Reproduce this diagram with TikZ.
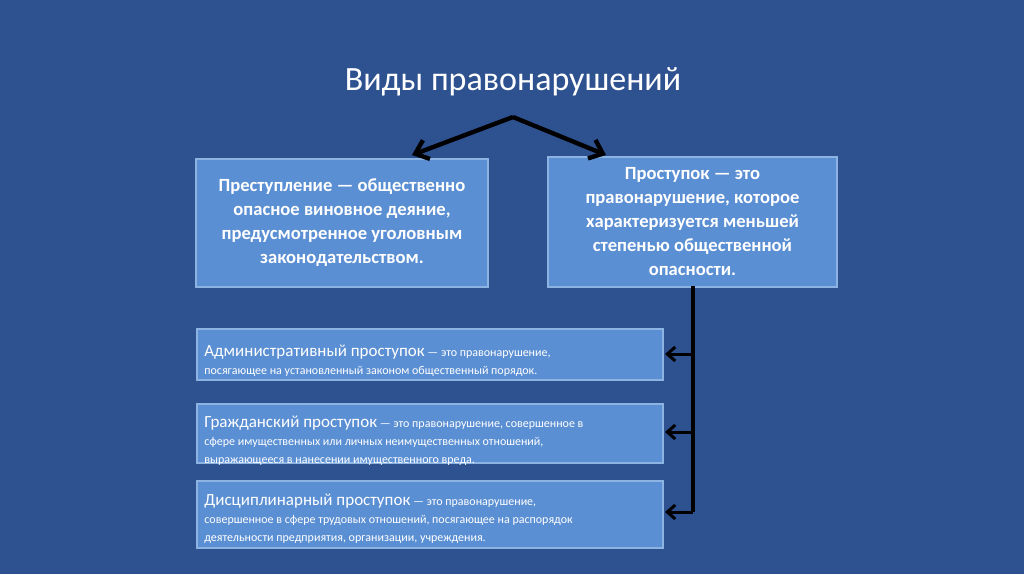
\documentclass[tikz,border=0pt]{standalone}
\usepackage{fontspec}
\setmainfont{Carlito}
\usetikzlibrary{arrows.meta}
\definecolor{bg}{HTML}{2E5190}
\definecolor{bx}{HTML}{5B8FD3}
\definecolor{bd}{HTML}{8DB3E2}
\begin{document}
\begin{tikzpicture}[x=0.5pt,y=-0.5pt,
  topbox/.style={fill=bx,draw=bd,line width=0.6pt,text=white,font=\fontsize{9.3}{12}\selectfont\bfseries,align=center},
  arr/.style={line width=2.2pt,black,-{Straight Barb[length=6pt,width=10pt]}},
  lowtext/.style={text=white,align=left,anchor=north west,inner sep=0pt,font=\fontsize{6}{9}\selectfont},
  lowbox/.style={fill=bx,draw=bd,line width=0.6pt}]
\useasboundingbox (0,0) rectangle (1024,574);
\fill[bg] (0,0) rectangle (1024,574);
\node[text=white,font=\fontsize{17}{20}\selectfont] (t) at (513,82) {Виды правонарушений};
\node[topbox,minimum width=146pt,minimum height=64pt] (a) at (342,223) {Преступление — общественно\\опасное виновное деяние,\\предусмотренное уголовным\\законодательством.};
\node[topbox,minimum width=144.5pt,minimum height=65pt] (b) at (692.5,222) {Проступок — это\\правонарушение, которое\\характеризуется меньшей\\степенью общественной\\опасности.};
\coordinate (apex) at (513,117);
\draw[arr] (apex) -- (412,155);
\draw[arr] (apex) -- (606,155);
\draw[lowbox] (197,329) rectangle (663,380);
\draw[lowbox] (197,404) rectangle (663,463);
\draw[lowbox] (197,481) rectangle (663,548);
\node[lowtext] (c1) at (204,345) {{\fontsize{8.5}{9}\selectfont Административный проступок} — это правонарушение,\\посягающее на установленный законом общественный порядок.};
\node[lowtext] (c2) at (204,416) {{\fontsize{8.5}{9}\selectfont Гражданский проступок} — это правонарушение, совершенное в\\сфере имущественных или личных неимущественных отношений,\\выражающееся в нанесении имущественного вреда.};
\node[lowtext] (c3) at (204,494) {{\fontsize{8.5}{9}\selectfont Дисциплинарный проступок} — это правонарушение,\\совершенное в сфере трудовых отношений, посягающее на распорядок\\деятельности предприятия, организации, учреждения.};
\coordinate (v0) at (693,286);
\coordinate (v1) at (693,354);
\coordinate (v2) at (693,432);
\coordinate (v3) at (693,512);
\draw[line width=2pt] (v0) -- (v3);
\foreach \v/\y in {v1/354,v2/432,v3/512}
  \draw[line width=1.5pt,-{Straight Barb[length=4pt,width=7pt]}] (\v) -- (665,\y);
\end{tikzpicture}
\end{document}
